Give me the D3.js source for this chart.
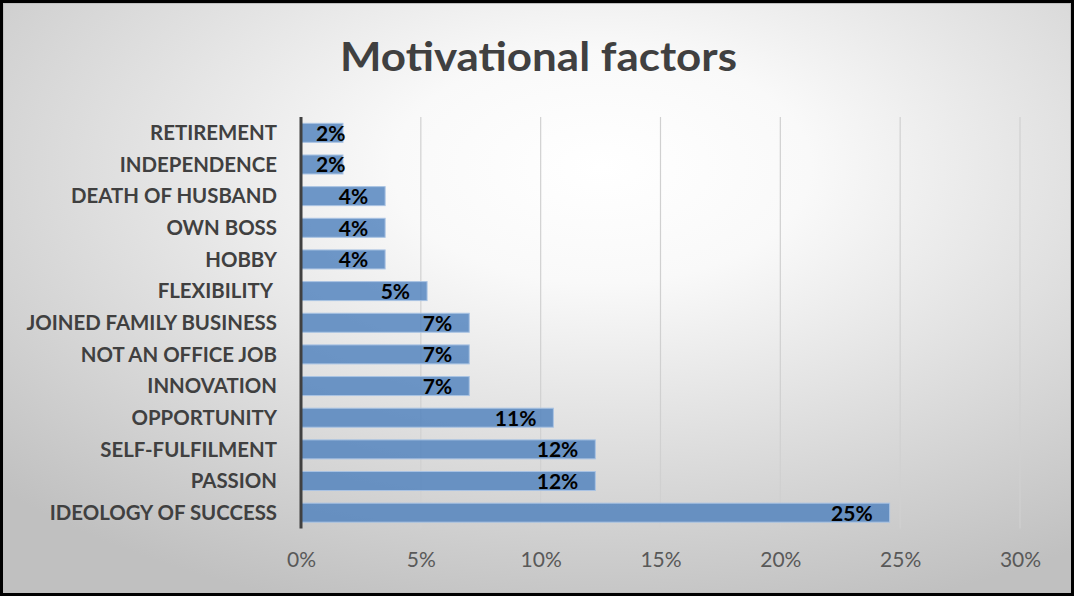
<!DOCTYPE html>
<html>
<head>
<meta charset="utf-8">
<script src="https://cdn.jsdelivr.net/npm/d3@7"></script>
<style>
  html, body { margin: 0; padding: 0; background: #ffffff; }
  svg { display: block; }
</style>
</head>
<body>
<svg id="chart" width="1074" height="596"></svg>
<script>
// ---- data ----
const categories = [
  "RETIREMENT", "INDEPENDENCE", "DEATH OF HUSBAND", "OWN BOSS", "HOBBY",
  "FLEXIBILITY ", "JOINED FAMILY BUSINESS", "NOT AN OFFICE JOB", "INNOVATION",
  "OPPORTUNITY", "SELF-FULFILMENT", "PASSION", "IDEOLOGY OF SUCCESS"
];
const values = [0.0175, 0.0175, 0.0351, 0.0351, 0.0351, 0.0526, 0.0702, 0.0702, 0.0702, 0.1053, 0.1228, 0.1228, 0.2456];
const tickValues = [0, 0.05, 0.10, 0.15, 0.20, 0.25, 0.30];
const title = "Motivational factors";

// ---- drawing ----
const W = 1074, H = 596;
const svg = d3.select("#chart");
const defs = svg.append("defs");
const grad = defs.append("radialGradient")
  .attr("id", "bg").attr("gradientUnits", "objectBoundingBox")
  .attr("cx", 0.56).attr("cy", 0.28).attr("r", 0.78)
  .attr("fx", 0.56).attr("fy", 0.28);
grad.append("stop").attr("offset", 0).attr("stop-color", "#ffffff");
grad.append("stop").attr("offset", 0.25).attr("stop-color", "#f9f9f9");
grad.append("stop").attr("offset", 1).attr("stop-color", "#c0c0c0");

svg.append("rect").attr("x", 0).attr("y", 0).attr("width", W).attr("height", H).attr("fill", "url(#bg)");
svg.append("rect").attr("x", 3.5).attr("y", 3.5).attr("width", W - 7).attr("height", H - 7)
  .attr("fill", "none").attr("stroke", "#bfbfbf").attr("stroke-width", 1);
svg.append("rect").attr("x", 1.5).attr("y", 1.5).attr("width", W - 3).attr("height", H - 3)
  .attr("fill", "none").attr("stroke", "#000000").attr("stroke-width", 3);

const x = d3.scaleLinear().domain([0, 0.30]).range([301, 1020]);
const y = d3.scaleBand().domain(categories).range([117, 528.5]).paddingInner(0.4).paddingOuter(0.2);

// title
svg.append("text").attr("x", 538.5).attr("y", 71).attr("text-anchor", "middle")
  .attr("font-family", "Lato, 'Open Sans', sans-serif").attr("font-weight", 700)
  .attr("font-size", 41).attr("textLength", 397).attr("lengthAdjust", "spacingAndGlyphs")
  .attr("fill", "#404040").text(title);

// gridlines
svg.append("g").selectAll("line").data(tickValues.filter(d => d > 0)).join("line")
  .attr("x1", d => x(d)).attr("x2", d => x(d)).attr("y1", 117).attr("y2", 528.5)
  .attr("stroke", "#d0d0d0").attr("stroke-width", 1.2);

// x tick labels via axis
const xAxis = d3.axisBottom(x).tickValues(tickValues).tickFormat(d3.format(".0%")).tickSize(0).tickPadding(0);
const gx = svg.append("g").attr("transform", "translate(0,567)").call(xAxis);
gx.select(".domain").remove();
gx.selectAll("text").attr("dy", 0).attr("y", 0)
  .attr("font-family", "Lato, sans-serif").attr("font-size", 21).attr("fill", "#595959");

// bars
svg.append("g").selectAll("rect").data(categories).join("rect")
  .attr("x", x(0)).attr("y", d => y(d))
  .attr("width", (d, i) => x(values[i]) - x(0)).attr("height", y.bandwidth())
  .attr("fill", "#4f81bd").attr("fill-opacity", 0.82)
  .attr("stroke", "#a9c3e3").attr("stroke-width", 1);

// y axis line
svg.append("line").attr("x1", 301).attr("x2", 301).attr("y1", 117).attr("y2", 528.5)
  .attr("stroke", "#404040").attr("stroke-width", 3);

// category labels via axis
const yAxis = d3.axisLeft(y).tickSize(0).tickPadding(0);
const gy = svg.append("g").attr("transform", "translate(277,0)").call(yAxis);
gy.select(".domain").remove();
gy.selectAll("text").attr("x", 0).attr("dy", "0.35em").style("white-space", "pre")
  .attr("font-family", "Lato, sans-serif").attr("font-weight", 700).attr("font-size", 20.4).attr("fill", "#404040");

// data labels
const fmt = d3.format(".0%");
const lbl = svg.append("g").selectAll("text").data(categories).join("text")
  .attr("y", d => y(d) + y.bandwidth() / 2 + 8)
  .attr("font-family", "Lato, sans-serif").attr("font-weight", 700).attr("font-size", 21)
  .attr("fill", "#000000").attr("text-anchor", "start")
  .text((d, i) => fmt(values[i]));
lbl.each(function(d, i) {
  const w = this.getComputedTextLength();
  let xe = x(values[i]) - 17;
  const minEnd = x(0) + 15 + w;
  if (xe < minEnd) xe = minEnd;
  d3.select(this).attr("x", xe - w);
});
</script>
</body>
</html>
